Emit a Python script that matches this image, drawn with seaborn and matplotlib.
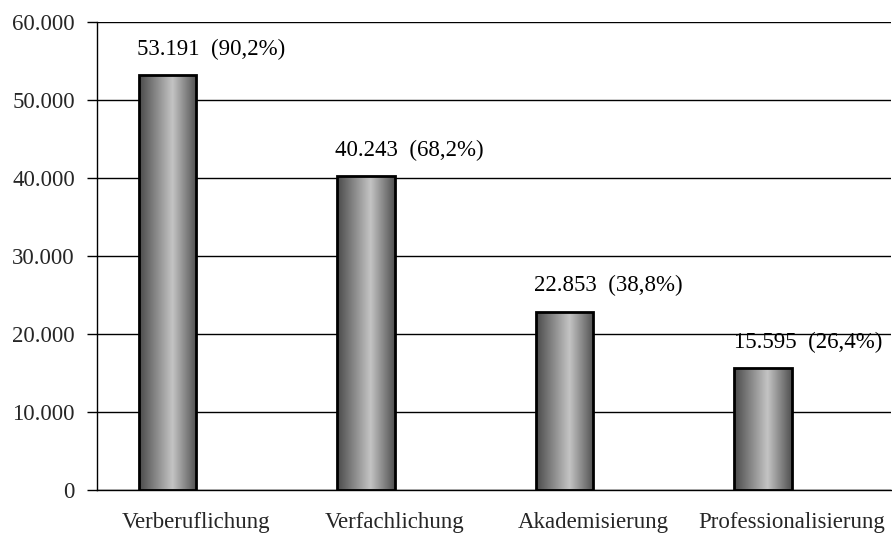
import numpy as np
import pandas as pd
import matplotlib
matplotlib.use("Agg")
import matplotlib.pyplot as plt
import seaborn as sns
from matplotlib.ticker import FuncFormatter, FixedLocator
from matplotlib.colors import LinearSegmentedColormap

categories = ["Verberuflichung", "Verfachlichung", "Akademisierung", "Professionalisierung"]
values = [53191, 40243, 22853, 15595]
percents = ["90,2%", "68,2%", "38,8%", "26,4%"]
yticks = [0, 10000, 20000, 30000, 40000, 50000, 60000]

sns.set_theme(style="white")
plt.rcParams["font.family"] = ["Liberation Serif", "DejaVu Serif"]
FS = 16.5

fig = plt.figure(figsize=(8.92, 5.36), dpi=100)
ax = fig.add_axes([97/892, 1-490/536, (891-97)/892, (490-22)/536])

df = pd.DataFrame({"cat": categories, "val": values})
sns.barplot(data=df, x="cat", y="val", ax=ax, width=0.29, color="#888888",
            edgecolor="black", linewidth=2.0, zorder=3)

cmap = LinearSegmentedColormap.from_list(
    "cyl", [(0.0, "#4a4a4a"), (0.58, "#c4c4c4"), (1.0, "#505050")])
grad = np.linspace(0, 1, 256).reshape(1, -1)

for i, p in enumerate(list(ax.patches)):
    p.set_x(p.get_x() - 0.145)
    x0, w, h = p.get_x(), p.get_width(), p.get_height()
    p.set_facecolor("none")
    im = ax.imshow(grad, cmap=cmap, aspect="auto", extent=(x0, x0 + w, 0, h),
                   zorder=2.5, interpolation="bilinear")
    im.set_clip_path(p)
    txt = f"{values[i]:,}".replace(",", ".") + f"  ({percents[i]})"
    ax.annotate(txt, xy=(x0 - 0.01 if i < 3 else x0 + w + 0.455, h),
                xytext=(0, 11), textcoords="offset points",
                ha="left" if i < 3 else "right", va="bottom", fontsize=FS,
                color="black", zorder=5)

ax.set_xlim(-0.5, 3.5)
ax.set_ylim(0, 60000)
ax.yaxis.set_major_locator(FixedLocator(yticks))
ax.yaxis.set_major_formatter(FuncFormatter(lambda v, _: f"{int(v):,}".replace(",", ".")))
ax.grid(axis="y", color="black", linewidth=1.0, zorder=1)
ax.set_axisbelow(True)

ax.set_xticks(range(len(categories)))
ax.set_xticklabels(categories)
ax.set_xticks([-0.5, 0.5, 1.5, 2.5, 3.5], minor=True)
ax.tick_params(axis="x", which="major", length=0, pad=16, labelsize=FS)
ax.tick_params(axis="x", which="minor", length=7, width=1, color="black", direction="out")
ax.tick_params(axis="y", which="major", length=7, width=1, color="black",
               direction="out", pad=9, labelsize=FS, left=True)
ax.set_xlabel("")
ax.set_ylabel("")

for s in ["top", "right"]:
    ax.spines[s].set_visible(False)
for s in ["left", "bottom"]:
    ax.spines[s].set_color("black")
    ax.spines[s].set_linewidth(1.0)

fig.savefig("out.png", dpi=100, facecolor="white")
